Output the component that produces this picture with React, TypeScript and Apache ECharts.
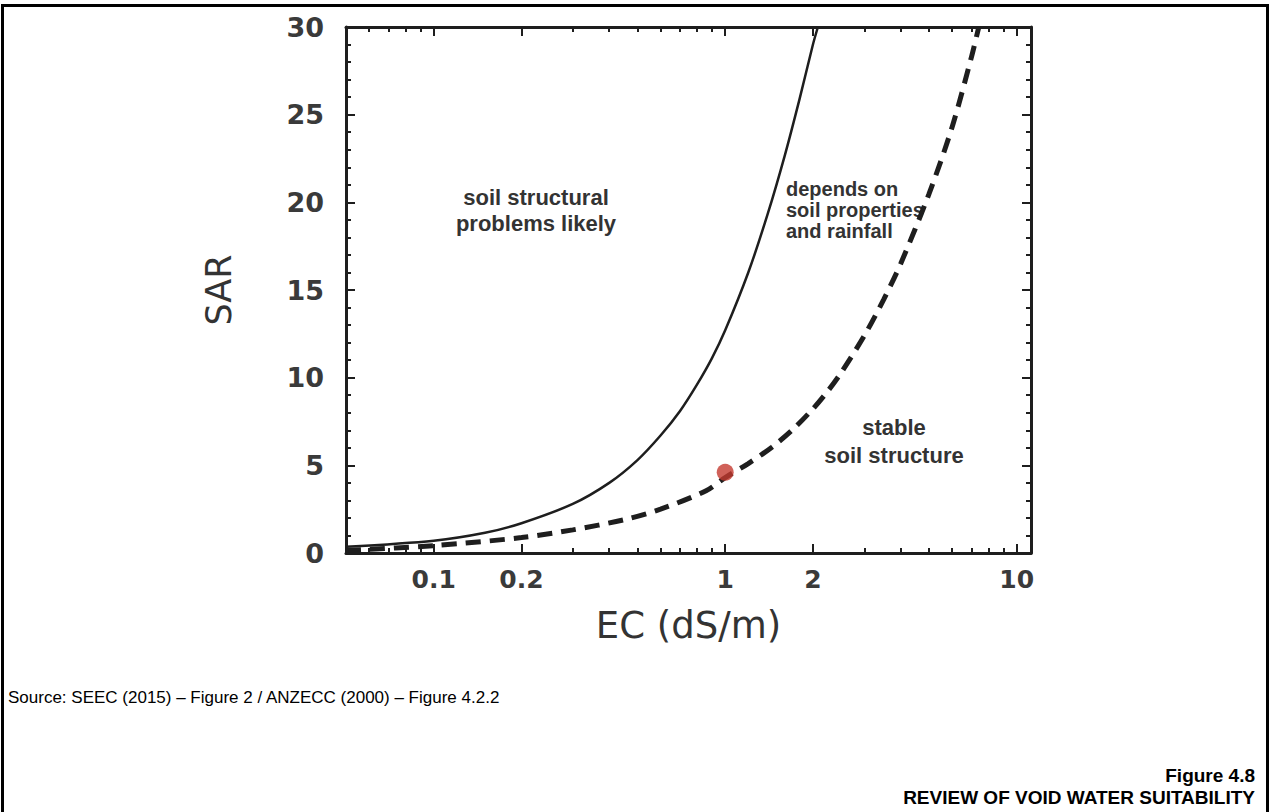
import React, { useEffect, useRef } from "react";
import * as echarts from "echarts";

// ---- data ----
const solidEC = [0.05, 0.1, 0.15, 0.2, 0.3, 0.4, 0.5, 0.6, 0.7, 0.8, 0.9, 1.0, 1.2, 1.4, 1.6, 1.8, 2.0, 2.08];
const solidSAR = [0.35, 0.7, 1.15, 1.7, 2.8, 4.0, 5.3, 6.7, 8.1, 9.6, 11.1, 12.7, 16.0, 19.35, 22.65, 25.9, 29.0, 30.0];

const dashEC = [0.05, 0.1, 0.2, 0.3, 0.45, 0.6, 0.86, 1.0, 1.2, 1.45, 1.7, 2.0, 2.25, 2.5, 3.0, 3.5, 4.0, 5.0, 6.0, 7.0, 7.4];
const dashSAR = [0.15, 0.42, 0.88, 1.32, 1.9, 2.5, 3.55, 4.3, 5.1, 6.05, 7.02, 8.22, 9.24, 10.29, 12.39, 14.47, 16.5, 20.47, 24.27, 28.3, 29.94];

const sampleEC = [1.0];
const sampleSAR = [4.6];

const xMajorTicks = [0.1, 0.2, 1, 2, 10];
const xMinorTicks = [0.06, 0.07, 0.08, 0.09, 0.3, 0.4, 0.5, 0.6, 0.7, 0.8, 0.9, 3, 4, 5, 6, 7, 8, 9];
const xMin = 0.05;
const xMax = 11.2;
const yMin = 0;
const yMax = 30;
const yStep = 5;

const regionLabels = [
  "soil structural\nproblems likely",
  "depends on\nsoil properties\nand rainfall",
  "stable\nsoil structure",
];
const sourceText = "Source: SEEC (2015) – Figure 2 / ANZECC (2000) – Figure 4.2.2";
const figureNo = "Figure 4.8";
const figureTitle = "REVIEW OF VOID WATER SUITABILITY";

const INK = "#1e1e1e";
const TXT = "#333333";
const LBL = "#3a3a3a";
const WIDE = '"DejaVu Sans", sans-serif';
const ARIAL = '"Liberation Sans", Arial, sans-serif';

const zip = (a: number[], b: number[]) => a.map((v, i) => [v, b[i]]);
const fmt = (v: number) => String(parseFloat(Number(v).toPrecision(3)));

function makeX(position: string, ticks: number[], len: number, withLine: boolean, withLabels: boolean) {
  return {
    type: "log",
    logBase: 10,
    position,
    min: xMin,
    max: xMax,
    axisLine: { show: withLine, lineStyle: { color: INK, width: 3 } },
    axisTick: {
      show: true,
      inside: true,
      length: len,
      customValues: ticks,
      lineStyle: { color: INK, width: 2 },
    },
    axisLabel: withLabels
      ? {
          show: true,
          customValues: xMajorTicks,
          formatter: (v: number) => fmt(v),
          fontFamily: WIDE,
          fontWeight: "bold",
          fontSize: 25,
          color: LBL,
          margin: 14,
        }
      : { show: false },
    splitLine: { show: false },
    minorSplitLine: { show: false },
  } as any;
}

function makeY(position: string, withLabels: boolean) {
  return {
    type: "value",
    position,
    min: yMin,
    max: yMax,
    interval: yStep,
    axisLine: { show: true, lineStyle: { color: INK, width: 3 } },
    axisTick: { show: true, inside: true, length: 9, lineStyle: { color: INK, width: 2 } },
    minorTick: { show: true, splitNumber: 5, length: 5, lineStyle: { color: INK, width: 2 } },
    axisLabel: withLabels
      ? { show: true, fontFamily: WIDE, fontWeight: "bold", fontSize: 27, color: LBL, margin: 22 }
      : { show: false },
    splitLine: { show: false },
    minorSplitLine: { show: false },
  } as any;
}

export default function App() {
  const ref = useRef<HTMLDivElement>(null);

  useEffect(() => {
    if (!ref.current) return;
    const chart = echarts.init(ref.current, null, { renderer: "svg" });

    const xBottom = makeX("bottom", xMajorTicks, 9, true, true);
    xBottom.name = "EC (dS/m)";
    xBottom.nameLocation = "middle";
    xBottom.nameGap = 54;
    xBottom.nameTextStyle = { fontFamily: WIDE, fontSize: 37, color: TXT };

    const yLeft = makeY("left", true);
    yLeft.name = "SAR";
    yLeft.nameLocation = "middle";
    yLeft.nameGap = 110;
    yLeft.nameTextStyle = { fontFamily: WIDE, fontSize: 35, color: TXT };

    chart.setOption({
      animation: false,
      backgroundColor: "#ffffff",
      grid: { left: 346, right: 240, top: 27, bottom: 259, containLabel: false },
      xAxis: [
        xBottom,
        makeX("bottom", xMinorTicks, 5, false, false),
        makeX("top", xMajorTicks, 9, true, false),
        makeX("top", xMinorTicks, 5, false, false),
      ],
      yAxis: [yLeft, makeY("right", false)],
      series: [
        {
          type: "line",
          xAxisIndex: 0,
          yAxisIndex: 0,
          data: zip(solidEC, solidSAR),
          smooth: 0.3,
          showSymbol: false,
          symbol: "none",
          lineStyle: { color: INK, width: 2.5 },
          z: 3,
        },
        {
          type: "line",
          xAxisIndex: 0,
          yAxisIndex: 0,
          data: zip(dashEC, dashSAR),
          smooth: 0.3,
          showSymbol: false,
          symbol: "none",
          lineStyle: { color: INK, width: 5, type: [15, 9] },
          z: 3,
        },
        {
          type: "scatter",
          xAxisIndex: 0,
          yAxisIndex: 0,
          data: zip(sampleEC, sampleSAR),
          symbolSize: 17,
          itemStyle: { color: "#c4392f" },
          z: 4,
        },
      ],
      graphic: [
        {
          type: "rect",
          silent: true,
          shape: { x: 2.5, y: 5.5, width: 1265, height: 900 },
          style: { fill: "none", stroke: "#000", lineWidth: 3 },
        },
        {
          type: "text",
          x: 536,
          y: 210,
          style: {
            text: regionLabels[0],
            align: "center",
            verticalAlign: "middle",
            fontFamily: ARIAL,
            fontWeight: "bold",
            fontSize: 22,
            lineHeight: 26,
            fill: TXT,
          },
        },
        {
          type: "text",
          x: 786,
          y: 210,
          style: {
            text: regionLabels[1],
            align: "left",
            verticalAlign: "middle",
            fontFamily: ARIAL,
            fontWeight: "bold",
            fontSize: 20,
            lineHeight: 21,
            fill: TXT,
          },
        },
        {
          type: "text",
          x: 894,
          y: 441,
          style: {
            text: regionLabels[2],
            align: "center",
            verticalAlign: "middle",
            fontFamily: ARIAL,
            fontWeight: "bold",
            fontSize: 22,
            lineHeight: 28,
            fill: TXT,
          },
        },
        {
          type: "text",
          x: 8,
          y: 697,
          style: {
            text: sourceText,
            align: "left",
            verticalAlign: "middle",
            fontFamily: ARIAL,
            fontSize: 17,
            fill: "#000",
          },
        },
        {
          type: "text",
          x: 1255,
          y: 775,
          style: {
            text: figureNo,
            align: "right",
            verticalAlign: "middle",
            fontFamily: ARIAL,
            fontWeight: "bold",
            fontSize: 19,
            fill: "#000",
          },
        },
        {
          type: "text",
          x: 1255,
          y: 797,
          style: {
            text: figureTitle,
            align: "right",
            verticalAlign: "middle",
            fontFamily: ARIAL,
            fontWeight: "bold",
            fontSize: 19,
            fill: "#000",
          },
        },
      ],
    });

    return () => chart.dispose();
  }, []);

  return (
    <div
      ref={ref}
      style={{ position: "fixed", left: 0, top: 0, width: 1271, height: 812, background: "#fff" }}
    />
  );
}
